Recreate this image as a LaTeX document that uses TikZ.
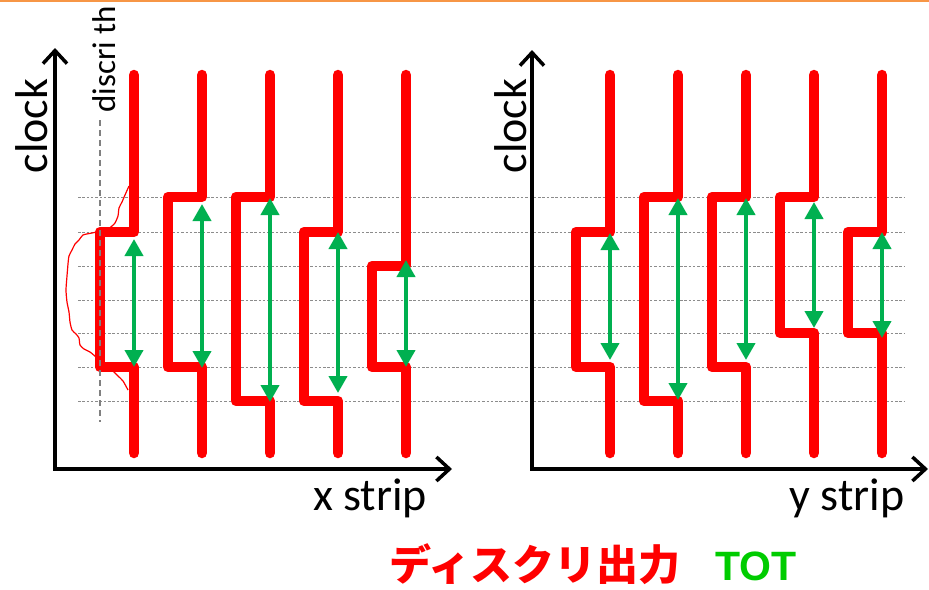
\documentclass[tikz,border=0pt]{standalone}
\usepackage{fontspec}
\setmainfont{Carlito}
\newfontfamily\jpfont{Noto Sans CJK JP}
\newfontfamily\totfont{Liberation Sans}
\usetikzlibrary{arrows.meta}
\definecolor{sigred}{RGB}{255,0,0}
\definecolor{totgreen}{RGB}{0,176,80}
\definecolor{labelgreen}{RGB}{0,204,0}
\definecolor{gridgray}{RGB}{140,140,140}
\definecolor{dashgray}{RGB}{128,128,128}
\definecolor{topline}{RGB}{247,150,70}

\tikzset{
  signal/.style={draw=sigred, line width=10.5pt, line cap=round, line join=round},
  totarrow/.style={draw=totgreen, line width=4pt,
    {Triangle[length=17pt,width=18pt]}-{Triangle[length=17pt,width=18pt]}},
  axisline/.style={draw=black, line width=3.5pt,
    -{Straight Barb[length=13pt,width=24pt,line width=3.5pt]}},
  gridline/.style={draw=gridgray, line width=0.9pt, dash pattern=on 2.5pt off 1.8pt},
  thline/.style={draw=dashgray, line width=1.8pt, dash pattern=on 6pt off 4pt},
  analog/.style={draw=sigred, line width=1.2pt, line join=round},
  axislabel/.style={inner sep=0pt, font=\fontsize{46}{50}\selectfont},
}

% a discriminator output pulse hanging to the left of strip line #1,
% from level #2 down to level #3; the TOT arrow runs from #4 to #5
\newcommand\sigpulse[6]{%
  \draw[signal] (#1,75) -- (#1,#2) -- ({#1-34},#2) -- ({#1-34},#3)
    -- (#1,#3) -- (#1,453);
  \coordinate (#6t) at (#1,#4);
  \coordinate (#6b) at (#1,#5);
}

\begin{document}
\begin{tikzpicture}[x=1pt,y=-1pt]
\useasboundingbox (0,0) rectangle (929,589);

% thin rule along the top edge
\draw[topline, line width=2pt] (0,1) -- (929,1);

% clock levels
\foreach \yy in {197,232,266,300,333,367,401}
  \draw[gridline] (78,\yy) -- (905,\yy);

% axes
\coordinate (lo) at (55,469);
\coordinate (ly) at (55,48);
\coordinate (lx) at (452,469);
\coordinate (ro) at (532,469);
\coordinate (ry) at (532,50);
\coordinate (rx) at (928,469);
\draw[axisline] ([yshift=-1.7pt]lo) -- (ly);
\draw[axisline] ([xshift=-1.7pt]lo) -- (lx);
\draw[axisline] ([yshift=-1.7pt]ro) -- (ry);
\draw[axisline] ([xshift=-1.7pt]ro) -- (rx);

% x strips
\sigpulse{134}{232}{367}{239}{367}{a1}
\sigpulse{202}{197}{367}{204}{368}{a2}
\sigpulse{270}{197}{401}{198}{402}{a3}
\sigpulse{338}{232}{401}{232}{393}{a4}
\sigpulse{406}{266}{367}{260}{367}{a5}

% y strips
\sigpulse{610}{232}{367}{233}{360}{b1}
\sigpulse{678}{197}{401}{198}{400}{b2}
\sigpulse{746}{197}{367}{198}{360}{b3}
\sigpulse{814}{197}{333}{202}{328}{b4}
\sigpulse{882}{232}{333}{232}{338}{b5}

% analog waveform on the first strip
\draw[analog] plot[smooth, tension=0.4] coordinates {
  (129,186) (125,195) (122,202) (119,208) (118,216) (115,223) (112,226)
  (108,229) (101,231) (92,233) (83,235) (79,240) (75,244) (72,250)
  (69,256) (68,264) (67,276) (66,290) (67,302) (69,312) (70,322)
  (72,330) (76,334) (79,338) (80,345) (84,349) (90,352) (96,357)
  (102,362) (108,367) (114,372) (118,376) (123,381) (128,390)};

% discriminator threshold
\coordinate (tht) at (100,120);
\coordinate (thb) at (100,422);
\draw[thline] (tht) -- (thb);
\node[inner sep=0pt, rotate=90, font=\fontsize{33}{36}\selectfont]
  (thlabel) at (104,59) {discri th};

% time over threshold arrows
\foreach \n in {a1,a2,a3,a4,a5,b1,b2,b3,b4,b5}
  \draw[totarrow] (\n t) -- (\n b);

% axis labels
\node[axislabel, rotate=90] (lclock) at (32,126) {clock};
\node[axislabel, rotate=90] (rclock) at (511,126) {clock};
\node[axislabel] (xlabel) at (370,498) {x strip};
\node[axislabel] (ylabel) at (847,498) {y strip};

% legend
\node[inner sep=0pt, text=sigred, font=\jpfont\bfseries\fontsize{42}{46}\selectfont]
  (disc) at (535,564) {ディスクリ出力};
\node[inner sep=0pt, text=labelgreen, font=\totfont\bfseries\fontsize{41}{44}\selectfont]
  (tot) at (756,566) {TOT};
\end{tikzpicture}
\end{document}
